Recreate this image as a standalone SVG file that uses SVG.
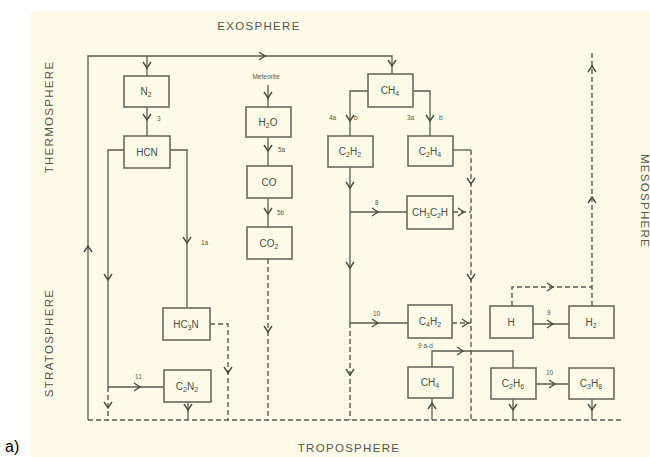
<svg xmlns="http://www.w3.org/2000/svg" xmlns:xlink="http://www.w3.org/1999/xlink" width="650" height="457" viewBox="0 0 650 457">
<style>
.ln{fill:none;stroke:#5a5a50;stroke-width:1.3}
.dl{fill:none;stroke:#5a5a50;stroke-width:1.4;stroke-dasharray:5,3}
.ah{fill:none;stroke:#4a4a42;stroke-width:1.4}
.bx{fill:#fdfbe8;stroke:#6a6a5e;stroke-width:1.6}
.bt{font-family:"Liberation Sans",Arial,sans-serif;font-size:10px;fill:#4a4a42;text-anchor:middle}
.zone{font-family:"Liberation Sans",Arial,sans-serif;font-size:11.5px;fill:#55554c;letter-spacing:1.3px}
.sm{font-family:"Liberation Sans",Arial,sans-serif;font-size:6.5px;fill:#55554c}
</style>
<defs>
<path id="ad" d="M-4,-6 L0,0 L4,-6"/>
<path id="au" d="M-4,6 L0,0 L4,6"/>
<path id="ar" d="M-6,-4 L0,0 L-6,4"/>
</defs>
<rect x="31" y="11" width="619" height="446" fill="#fdfbe8"/>
<text x="5" y="452" font-family="Liberation Sans,Arial,sans-serif" font-size="16" fill="#000">a)</text>
<text class="zone" x="259" y="30" text-anchor="middle">EXOSPHERE</text>
<text class="zone" x="349" y="452" text-anchor="middle">TROPOSPHERE</text>
<text class="zone" transform="translate(53,117) rotate(-90)" text-anchor="middle" font-size="11">THERMOSPHERE</text>
<text class="zone" transform="translate(53,343) rotate(-90)" text-anchor="middle" font-size="11">STRATOSPHERE</text>
<text class="zone" transform="translate(641,201) rotate(90)" text-anchor="middle" font-size="11">MESOSPHERE</text>
<g id="connectors">
<path class="ln" d="M88,420 V56 H392 V74"/>
<path class="ln" d="M147,56 V76"/>
<path class="ln" d="M147,107 V136"/>
<path class="ln" d="M124,150 H108 V387 H164"/>
<path class="ln" d="M170,150 H187 V308"/>
<path class="ln" d="M268,85 V107"/>
<path class="ln" d="M268,137 V166"/>
<path class="ln" d="M268,198 V227"/>
<path class="ln" d="M368,91 H350 V136"/>
<path class="ln" d="M413,91 H430 V136"/>
<path class="ln" d="M350,167 V323 H408"/>
<path class="ln" d="M350,212 H407"/>
<path class="ln" d="M453,150 H471"/>
<path class="ln" d="M533,324 H569"/>
<path class="ln" d="M536,384 H569"/>
<path class="ln" d="M432,367 V351 H513 V368"/>
<path class="ln" d="M432,420 V398"/>
<path class="ln" d="M188,402 V420"/>
<path class="ln" d="M513,399 V420"/>
<path class="ln" d="M592,399 V420"/>
<path class="dl" d="M88,420 H622"/>
<path class="dl" d="M108,387 V420"/>
<path class="dl" d="M210,324 H228 V420"/>
<path class="dl" d="M268,259 V420"/>
<path class="dl" d="M350,323 V420"/>
<path class="dl" d="M471,150 V420"/>
<path class="dl" d="M453,212 H471"/>
<path class="dl" d="M452,323 H471"/>
<path class="dl" d="M512,306 V287 H592"/>
<path class="dl" d="M592,306 V52"/>
<g class="ah">
<use xlink:href="#ar" x="265" y="56"/>
<use xlink:href="#au" x="88" y="246"/>
<use xlink:href="#ad" x="147" y="68"/>
<use xlink:href="#ad" x="147" y="120"/>
<use xlink:href="#ad" x="108" y="280"/>
<use xlink:href="#ar" x="140" y="387"/>
<use xlink:href="#ad" x="108" y="408"/>
<use xlink:href="#ad" x="187" y="243"/>
<use xlink:href="#ad" x="228" y="373"/>
<use xlink:href="#ad" x="188" y="410"/>
<use xlink:href="#ad" x="268" y="98"/>
<use xlink:href="#ad" x="268" y="151"/>
<use xlink:href="#ad" x="268" y="214"/>
<use xlink:href="#ad" x="268" y="332"/>
<use xlink:href="#ad" x="392" y="66"/>
<use xlink:href="#ad" x="350" y="121"/>
<use xlink:href="#ad" x="430" y="121"/>
<use xlink:href="#ad" x="350" y="188"/>
<use xlink:href="#ad" x="350" y="268"/>
<use xlink:href="#ar" x="378" y="212"/>
<use xlink:href="#ad" x="350" y="375"/>
<use xlink:href="#ar" x="378" y="323"/>
<use xlink:href="#ad" x="471" y="184"/>
<use xlink:href="#ad" x="471" y="280"/>
<use xlink:href="#ar" x="464" y="212"/>
<use xlink:href="#ar" x="468" y="323"/>
<use xlink:href="#ar" x="463" y="351"/>
<use xlink:href="#au" x="432" y="403"/>
<use xlink:href="#ar" x="553" y="287"/>
<use xlink:href="#au" x="592" y="66"/>
<use xlink:href="#au" x="592" y="197"/>
<use xlink:href="#ar" x="553" y="324"/>
<use xlink:href="#ar" x="555" y="384"/>
<use xlink:href="#ad" x="513" y="410"/>
<use xlink:href="#ad" x="592" y="410"/>
</g>
<text class="sm" x="157" y="121">3</text>
<text class="sm" x="201" y="245">1a</text>
<text class="sm" x="135" y="379">11</text>
<text class="sm" x="266" y="79" text-anchor="middle" font-size="5.5">Meteorite</text>
<text class="sm" x="278" y="152">5a</text>
<text class="sm" x="277" y="215">5b</text>
<text class="sm" x="329" y="120">4a</text>
<text class="sm" x="354" y="120">b</text>
<text class="sm" x="407" y="120">3a</text>
<text class="sm" x="439" y="120">b</text>
<text class="sm" x="375" y="205">8</text>
<text class="sm" x="373" y="316">10</text>
<text class="sm" x="418" y="348">9 a-d</text>
<text class="sm" x="547" y="315">9</text>
<text class="sm" x="546" y="375">10</text>
</g>
<g id="n2"><rect class="bx" x="124" y="76" width="45" height="31"/><text class="bt" x="146" y="95">N<tspan dy="2" font-size="7">2</tspan></text></g>
<g id="hcn"><rect class="bx" x="124" y="136" width="46" height="32"/><text class="bt" x="147" y="156">HCN</text></g>
<g id="hc3n"><rect class="bx" x="163" y="308" width="47" height="32"/><text class="bt" x="186" y="328">HC<tspan dy="2" font-size="7">3</tspan><tspan dy="-2">N</tspan></text></g>
<g id="c2n2"><rect class="bx" x="164" y="370" width="47" height="32"/><text class="bt" x="187" y="390">C<tspan dy="2" font-size="7">2</tspan><tspan dy="-2">N</tspan><tspan dy="2" font-size="7">2</tspan></text></g>
<g id="h2o"><rect class="bx" x="246" y="107" width="45" height="30"/><text class="bt" x="268" y="126">H<tspan dy="2" font-size="7">2</tspan><tspan dy="-2">O</tspan></text></g>
<g id="co"><rect class="bx" x="247" y="166" width="45" height="32"/><text class="bt" x="269" y="186">CO</text></g>
<g id="co2"><rect class="bx" x="247" y="227" width="45" height="32"/><text class="bt" x="269" y="247">CO<tspan dy="2" font-size="7">2</tspan></text></g>
<g id="ch4top"><rect class="bx" x="368" y="74" width="45" height="33"/><text class="bt" x="390" y="94">CH<tspan dy="2" font-size="7">4</tspan></text></g>
<g id="c2h2"><rect class="bx" x="328" y="136" width="45" height="31"/><text class="bt" x="350" y="155">C<tspan dy="2" font-size="7">2</tspan><tspan dy="-2">H</tspan><tspan dy="2" font-size="7">2</tspan></text></g>
<g id="c2h4"><rect class="bx" x="408" y="136" width="45" height="30"/><text class="bt" x="430" y="155">C<tspan dy="2" font-size="7">2</tspan><tspan dy="-2">H</tspan><tspan dy="2" font-size="7">4</tspan></text></g>
<g id="ch3c2h"><rect class="bx" x="407" y="196" width="46" height="33"/><text class="bt" x="430" y="216" font-size="9">CH<tspan dy="2" font-size="6.5">3</tspan><tspan dy="-2">C</tspan><tspan dy="2" font-size="6.5">2</tspan><tspan dy="-2">H</tspan></text></g>
<g id="c4h2"><rect class="bx" x="408" y="305" width="44" height="33"/><text class="bt" x="430" y="325">C<tspan dy="2" font-size="7">4</tspan><tspan dy="-2">H</tspan><tspan dy="2" font-size="7">2</tspan></text></g>
<g id="ch4bot"><rect class="bx" x="408" y="367" width="45" height="31"/><text class="bt" x="430" y="386">CH<tspan dy="2" font-size="7">4</tspan></text></g>
<g id="h"><rect class="bx" x="490" y="306" width="43" height="32"/><text class="bt" x="511" y="326">H</text></g>
<g id="h2"><rect class="bx" x="569" y="306" width="45" height="32"/><text class="bt" x="591" y="326">H<tspan dy="2" font-size="7">2</tspan></text></g>
<g id="c2h6"><rect class="bx" x="491" y="368" width="45" height="31"/><text class="bt" x="513" y="387">C<tspan dy="2" font-size="7">2</tspan><tspan dy="-2">H</tspan><tspan dy="2" font-size="7">6</tspan></text></g>
<g id="c3h8"><rect class="bx" x="569" y="368" width="45" height="31"/><text class="bt" x="591" y="387">C<tspan dy="2" font-size="7">3</tspan><tspan dy="-2">H</tspan><tspan dy="2" font-size="7">8</tspan></text></g>
</svg>
